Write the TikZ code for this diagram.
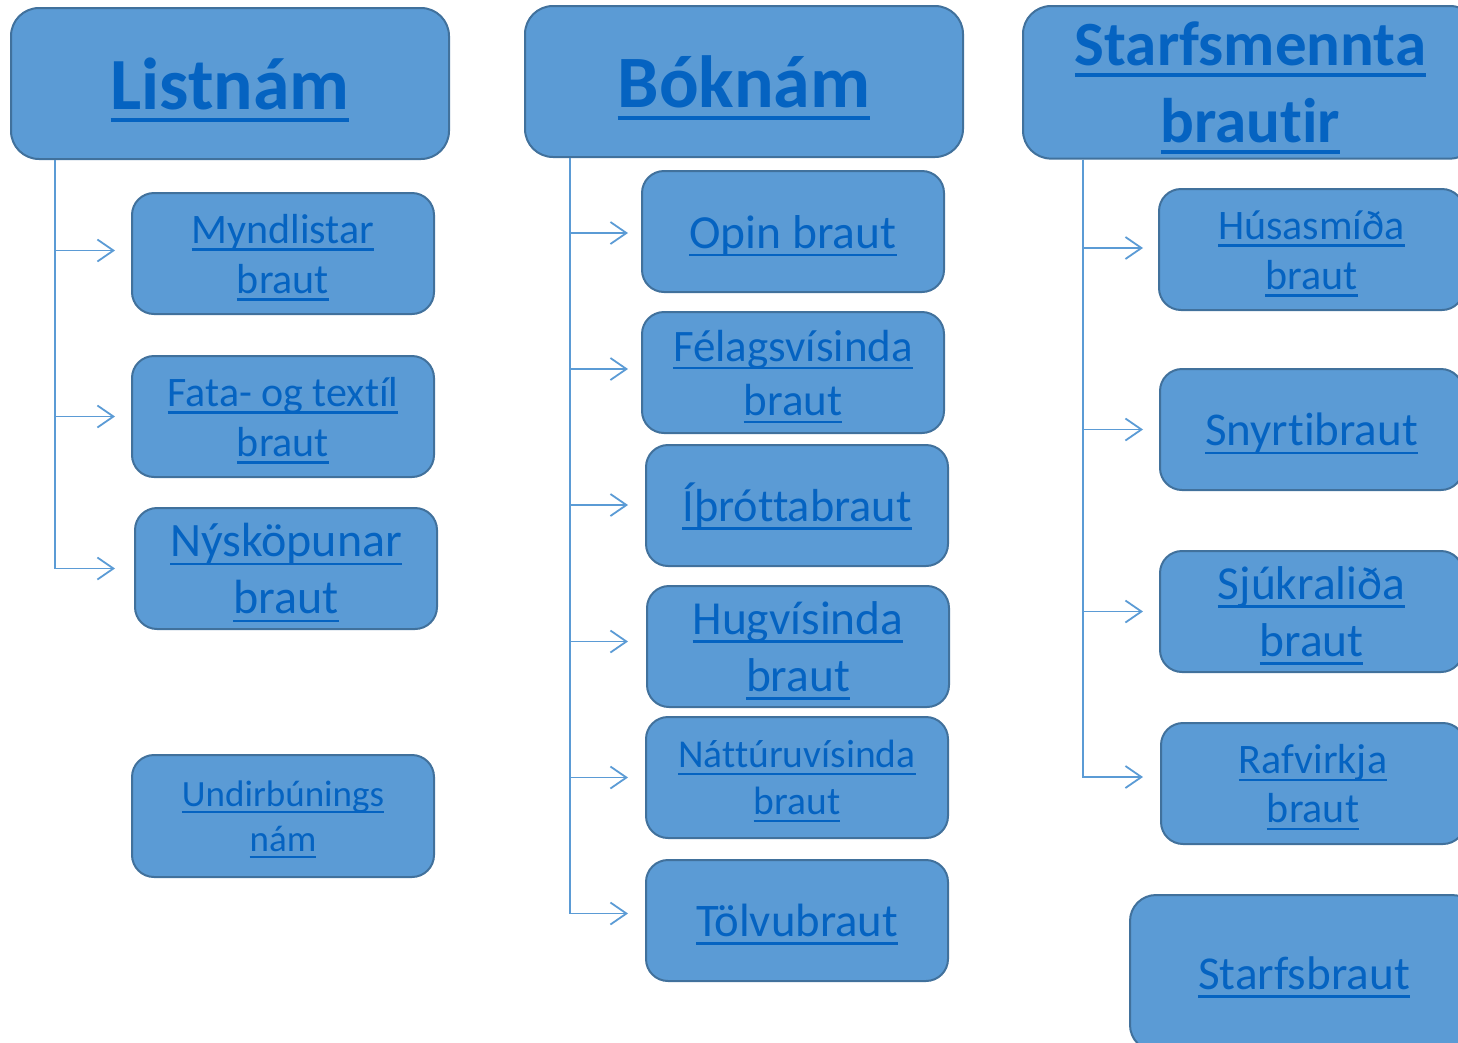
\documentclass[tikz,border=0pt]{standalone}
\usepackage{fontspec}
\setmainfont{Carlito}[Ligatures={NoCommon,NoContextual}, Contextuals=NoAlternate, RawFeature={-liga;-clig;-dlig}]
\usetikzlibrary{arrows.meta}
\definecolor{boxfill}{HTML}{5B9BD5}
\definecolor{boxline}{HTML}{41719C}
\definecolor{linktext}{HTML}{0563C1}
\newcommand\ulx[1]{\setbox0=\hbox{#1}\rlap{\rule[-0.175em]{\wd0}{0.055em}}\box0}
\newcommand\hst{\rule{0pt}{0.95em}}
\newcommand\dst{\rule[-0.25em]{0pt}{0.25em}}
\newcommand\one[1]{\hst\ulx{#1}\dst}
\newcommand\two[2]{\hst\ulx{#1}\\\ulx{#2}\dst}
\begin{document}
\begin{tikzpicture}[x=1pt,y=-1pt,
 head/.style={draw=boxline, fill=boxfill, line width=2pt, rounded corners=28pt, minimum width=438pt, minimum height=151pt, anchor=north west, inner sep=0pt, text=linktext, align=center},
 sub/.style={draw=boxline, fill=boxfill, line width=2pt, rounded corners=22pt, minimum width=302pt, minimum height=121pt, anchor=north west, inner sep=0pt, text=linktext, align=center},
 conn/.style={draw=boxfill, line width=1.8pt, -{Straight Barb[length=16pt,width=22pt]}}
]
\useasboundingbox (0,0) rectangle (1458,1042);
\clip (0,0) rectangle (1458,1042);
% headings
\node[head, font=\bfseries\fontsize{73.6}{88}\selectfont] (L) at (10,7) {\one{Listnám}};
\node[head, font=\bfseries\fontsize{73.9}{88}\selectfont] (B) at (524,5) {\one{Bóknám}};
\node[head, minimum width=455pt, minimum height=152pt, font=\bfseries\fontsize{63}{77}\selectfont] (S) at (1022,5) {\two{Starfsmennta}{brautir}};
% Listnam children
\node[sub, font=\fontsize{42}{50}\selectfont] (Myn) at (131,192) {\two{Myndlistar}{braut}};
\node[sub, font=\fontsize{42}{50}\selectfont] (Fat) at (131,355) {\two{Fata- og textíl}{braut}};
\node[sub, font=\fontsize{48}{57}\selectfont] (Nys) at (134,507) {\two{Nýsköpunar}{braut}};
\node[sub, minimum height=122pt, font=\fontsize{37}{45}\selectfont] (Und) at (131,754) {\two{Undirbúnings}{nám}};
% Boknam children
\node[sub, font=\fontsize{47.5}{57}\selectfont] (Opi) at (641,170) {\one{Opin braut}};
\node[sub, font=\fontsize{45}{54}\selectfont] (Fel) at (641,311) {\two{Félagsvísinda}{braut}};
\node[sub, font=\fontsize{46.3}{56}\selectfont] (Ith) at (645,444) {\one{Íþróttabraut}};
\node[sub, font=\fontsize{47.4}{57}\selectfont] (Hug) at (646,585) {\two{Hugvísinda}{braut}};
\node[sub, font=\fontsize{39.5}{47}\selectfont] (Nat) at (645,716) {\two{Náttúruvísinda}{braut}};
\node[sub, font=\fontsize{46.7}{56}\selectfont] (Tol) at (645,859) {\one{Tölvubraut}};
% Starfsmennta children
\node[sub, minimum width=305pt, font=\fontsize{42}{50}\selectfont] (Hus) at (1158,188) {\two{Húsasmíða}{braut}};
\node[sub, minimum width=303pt, font=\fontsize{47}{56}\selectfont] (Sny) at (1159,368) {\one{Snyrtibraut}};
\node[sub, minimum width=303pt, font=\fontsize{47.4}{57}\selectfont] (Sju) at (1159,550) {\two{Sjúkraliða}{braut}};
\node[sub, minimum width=304pt, font=\fontsize{42}{49}\selectfont] (Raf) at (1160,722) {\two{Rafvirkja}{braut}};
\node[sub, minimum width=348pt, minimum height=156pt, rounded corners=26pt, font=\fontsize{47.2}{57}\selectfont] (Stb) at (1129,894) {\one{Starfsbraut}};
% connectors
\coordinate (Lt) at ([xshift=45pt]L.south west);
\coordinate (Bt) at ([xshift=46pt]B.south west);
\coordinate (St) at ([xshift=61pt]S.south west);
\draw[conn] (Lt) |- ([xshift=-16pt,yshift=3pt]Myn.west);
\draw[conn] (Lt) |- ([xshift=-16pt]Fat.west);
\draw[conn] (Lt) |- ([xshift=-19pt]Nys.west);
\draw[conn] (Bt) |- ([xshift=-13pt,yshift=-1.5pt]Opi.west);
\draw[conn] (Bt) |- ([xshift=-13pt,yshift=3.5pt]Fel.west);
\draw[conn] (Bt) |- ([xshift=-17pt,yshift=0.5pt]Ith.west);
\draw[conn] (Bt) |- ([xshift=-18pt,yshift=5pt]Hug.west);
\draw[conn] (Bt) |- ([xshift=-17pt]Nat.west);
\draw[conn] (Bt) |- ([xshift=-17pt,yshift=7pt]Tol.west);
\draw[conn] (St) |- ([xshift=-15pt,yshift=1.5pt]Hus.west);
\draw[conn] (St) |- ([xshift=-16pt]Sny.west);
\draw[conn] (St) |- ([xshift=-16pt]Sju.west);
\draw[conn] (St) |- ([xshift=-17pt,yshift=6.5pt]Raf.west);
\end{tikzpicture}
\end{document}
